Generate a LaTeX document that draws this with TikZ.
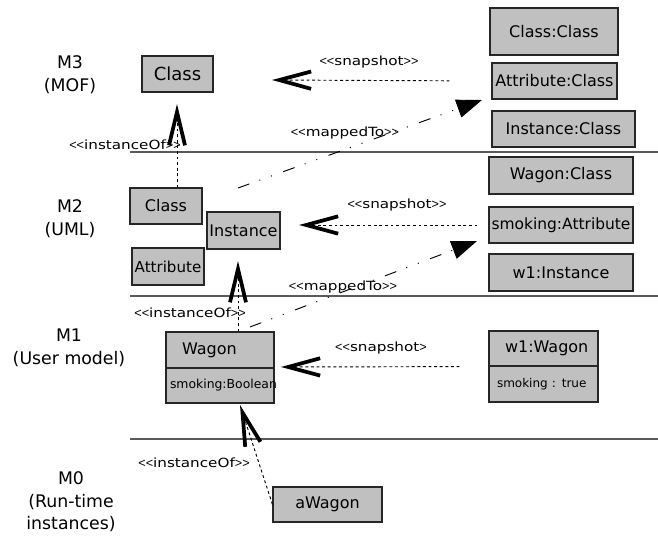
\documentclass[tikz,border=0pt]{standalone}
\usepackage{fontspec}
\setmainfont{DejaVu Sans}
\newfontfamily\lblfont[FakeStretch=1.2]{DejaVu Sans}
\newfontfamily\ltfont{Liberation Sans}
\newcommand\mylt{{\ltfont<}}
\newcommand\mygt{{\ltfont>}}
\usetikzlibrary{arrows.meta}
\def\px{0.75pt}
\definecolor{boxgray}{HTML}{C0C0C0}
\definecolor{sepgray}{HTML}{5A5A5A}
\begin{document}
\begin{tikzpicture}[x=0.75pt,y=-0.75pt,
  box/.style={draw=black!85, fill=boxgray, line width=0.8pt, inner sep=0pt,
    font=\fontsize{12}{14}\selectfont},
  lbox/.style={box, align=left},
  lvl/.style={align=center, font=\fontsize{13}{17}\selectfont},
  lbl/.style={inner sep=0pt, font=\lblfont\fontsize{9.5}{11}\selectfont},
  sepline/.style={draw=sepgray, line width=1pt},
  snapline/.style={draw=black, line width=0.7pt, dash pattern=on 2.2pt off 2pt,
    -{Straight Barb[length=24pt, width=13pt, line width=2.8pt]}},
  instline/.style={draw=black, line width=0.7pt, dash pattern=on 2.2pt off 2pt,
    -{Straight Barb[length=25pt, width=12pt, line width=2.8pt]}},
  mapline/.style={draw=black, line width=0.7pt,
    dash pattern=on 9pt off 8pt on 0.8pt off 8.5pt on 0.8pt off 9pt,
    -{Triangle[length=19pt, width=14pt]}}
]
\useasboundingbox (0,0) rectangle (658,536);

% separators
\draw[sepline] (130,152) -- (658,152);
\draw[sepline] (130,296) -- (658,296);
\draw[sepline] (130,439) -- (658,439);

% level labels
\node[lvl] (m3) at (70,75) {M3\\(MOF)};
\node[lvl] (m2) at (70,219) {M2\\(UML)};
\node[lvl] (m1) at (69,348) {M1\\(User model)};
\node[lvl] (m0) at (71,502) {M0\\(Run-time\\instances)};

% M3
\node[box, minimum width=71*\px, minimum height=36*\px, font=\fontsize{13.5}{15}\selectfont] (c3) at (177.5,74) {Class};
\node[box, minimum width=128*\px, minimum height=47*\px] (cc) at (554,31.5) {Class:Class};
\node[box, minimum width=125*\px, minimum height=36*\px] (ac) at (554.5,81) {Attribute:Class};
\node[box, minimum width=143*\px, minimum height=36*\px] (ic) at (563.5,129) {Instance:Class};

% M2
\node[box, minimum width=72*\px, minimum height=36*\px] (c2) at (166,206) {Class};
\node[box, minimum width=73*\px, minimum height=37*\px] (inst) at (243.5,230.5) {Instance};
\node[box, minimum width=72*\px, minimum height=37*\px, font=\fontsize{11.3}{13}\selectfont] (attr) at (168,266.5) {Attribute};
\node[box, minimum width=144*\px, minimum height=37*\px] (wc) at (561,175.5) {Wagon:Class};
\node[box, minimum width=144*\px, minimum height=36*\px, font=\fontsize{11.6}{13}\selectfont] (sa) at (561,225) {smoking:Attribute};
\node[box, minimum width=144*\px, minimum height=37*\px] (wi) at (561,272.5) {w1:Instance};

% M1
\node[lbox, inner xsep=16*\px, text width=76*\px, minimum height=36*\px] (wagon) at (220,350) {Wagon};
\node[lbox, inner xsep=4*\px, text width=100*\px, minimum height=35*\px, font=\fontsize{9.3}{11}\selectfont] (wagonattr) at (220,385.5) {smoking:Boolean};
\node[lbox, inner xsep=16*\px, text width=77*\px, minimum height=35*\px] (w1w) at (543.5,348.5) {w1:Wagon};
\node[lbox, inner xsep=8*\px, text width=93*\px, minimum height=36*\px, font=\fontsize{9}{11}\selectfont] (w1wattr) at (543.5,384) {smoking : true};

% M0
\node[box, minimum width=109*\px, minimum height=35*\px] (aw) at (327.5,504.5) {aWagon};

% free ends
\coordinate (t3i) at (177,104);
\coordinate (t3s) at (272,80);
\coordinate (m3s) at (238,188);
\coordinate (m3e) at (482,100);
\coordinate (t2i) at (238,261);
\coordinate (t2s) at (299,225);
\coordinate (m2s) at (250,327);
\coordinate (m2e) at (477,241);
\coordinate (t1s) at (281,367);
\coordinate (t0i) at (240,405);

% connectors
\draw[snapline, shorten <=42*\px] (ac.west) -- (t3s);
\draw[instline] (c2.north -| t3i) -- (t3i);
\draw[mapline] (m3s) -- (m3e);
\draw[snapline, shorten <=11*\px] (sa.west) -- (t2s);
\draw[instline] (wagon.north -| t2i) -- (t2i);
\draw[mapline] (m2s) -- (m2e);
\draw[snapline, shorten <=29*\px] (w1w.south west) -- (t1s);
\draw[instline] (aw.west) -- (t0i);

% labels
\node[lbl] (ls3) at (369,62) {\mylt\mylt snapshot\mygt\mygt};
\node[lbl] (lm3) at (345,133) {\mylt\mylt mappedTo\mygt\mygt};
\node[lbl] (li3) at (125,145) {\mylt\mylt instanceOf\mygt\mygt};
\node[lbl] (ls2) at (397,205) {\mylt\mylt snapshot\mygt\mygt};
\node[lbl] (lm2) at (343,287) {\mylt\mylt mappedTo\mygt\mygt};
\node[lbl] (li2) at (190,313) {\mylt\mylt instanceOf\mygt\mygt};
\node[lbl] (ls1) at (381,348) {\mylt\mylt snapshot\mygt};
\node[lbl] (li1) at (194,463) {\mylt\mylt instanceOf\mygt\mygt};
\end{tikzpicture}
\end{document}
